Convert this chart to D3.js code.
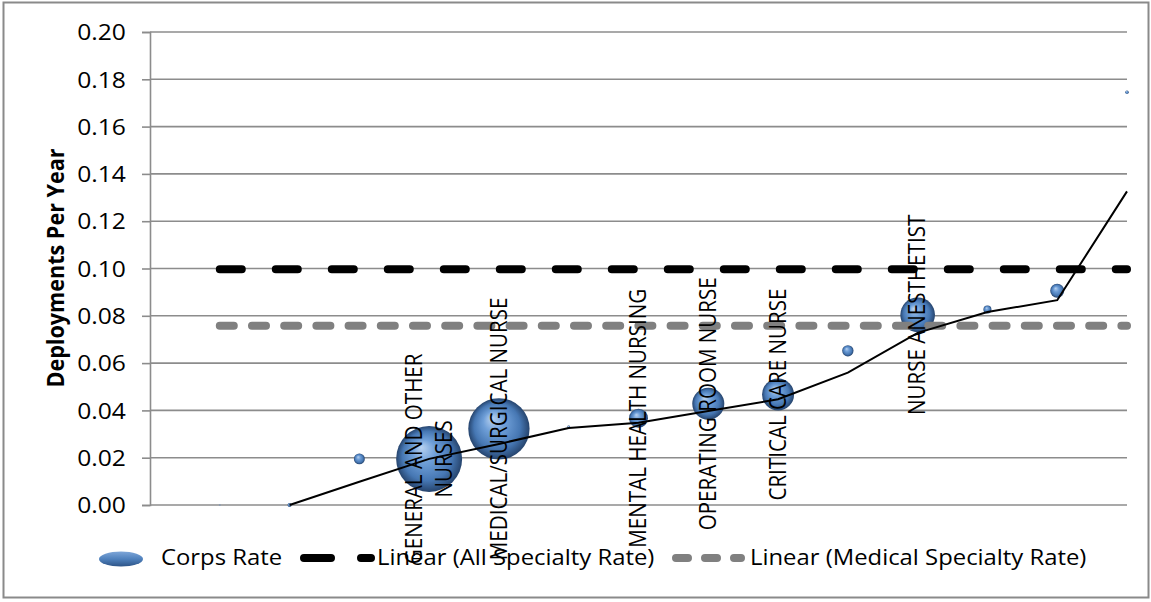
<!DOCTYPE html>
<html><head><meta charset="utf-8">
<script src="https://cdn.jsdelivr.net/npm/d3@7"></script>
<style>
body{margin:0;background:#fff}
text{font-family:"Open Sans",sans-serif;fill:#000}
</style>
</head><body>
<svg id="chart" width="1151" height="602"></svg>
<script>
// ---- data ----
const xIndex = [1,2,3,4,5,6,7,8,9,10,11,12,13,14];
const corpsRate = [0.0000,0.0000,0.0195,0.0195,0.0322,0.0330,0.0367,0.0428,0.0467,0.0652,0.0804,0.0827,0.0906,0.1745];
const bubbleSize = [1,4,30,1089,940,2,90,256,256,32,300,16,49,3];
const specialtyLabels = ["","","","GENERAL AND OTHER\nNURSES","MEDICAL/SURGICAL NURSE","","MENTAL HEALTH NURSING","OPERATING ROOM NURSE","CRITICAL CARE NURSE","","NURSE ANESTHETIST","","",""];
const movingAvgX = [2,3,4,5,6,7,8,9,10,11,12,13,14];
const movingAvg = [0.0000,0.0098,0.0195,0.0258,0.0326,0.0348,0.0397,0.0447,0.0560,0.0728,0.0816,0.0866,0.1326];
const trendNames = ["Linear (All Specialty Rate)","Linear (Medical Specialty Rate)"];
const trendValues = [0.0997,0.0758];
const trendRange = [1,14];
const yTicks = [0,0.02,0.04,0.06,0.08,0.10,0.12,0.14,0.16,0.18,0.20];
const yTitle = "Deployments Per Year";
const legendLabels = ["Corps Rate","Linear (All Specialty Rate)","Linear (Medical Specialty Rate)"];

// ---- layout ----
const svg = d3.select("#chart");
const SX = 1.12;
const x = d3.scaleLinear().domain([0,14]).range([150,1127]);
const y = d3.scaleLinear().domain([0,0.2]).range([505,32]);
const r = d3.scaleSqrt().domain([0,1089]).range([0,33]);

const defs = svg.append("defs");
const rg = defs.append("radialGradient").attr("id","bub")
  .attr("cx","50%").attr("cy","50%").attr("r","50%").attr("fx","38%").attr("fy","32%");
rg.append("stop").attr("offset","0%").attr("stop-color","#b9d2f0");
rg.append("stop").attr("offset","35%").attr("stop-color","#6f9fd8");
rg.append("stop").attr("offset","75%").attr("stop-color","#4677b3");
rg.append("stop").attr("offset","100%").attr("stop-color","#26446d");
const lg = defs.append("linearGradient").attr("id","legbub").attr("x1",0).attr("x2",0).attr("y1",0).attr("y2",1);
lg.append("stop").attr("offset","0%").attr("stop-color","#7ea6d8");
lg.append("stop").attr("offset","50%").attr("stop-color","#4f81bd");
lg.append("stop").attr("offset","100%").attr("stop-color","#2d5487");

svg.append("rect").attr("x",0).attr("y",0).attr("width",1151).attr("height",602).attr("fill","#fff");
svg.append("rect").attr("x",3.5).attr("y",2.5).attr("width",1145).attr("height",595)
  .attr("fill","none").attr("stroke","#8a8a8a").attr("stroke-width",2);

// gridlines
svg.append("g").selectAll("line").data(yTicks).join("line")
  .attr("x1",150).attr("x2",1127).attr("y1",d=>y(d)).attr("y2",d=>y(d))
  .attr("stroke","#8c8c8c").attr("stroke-width",1.6);

// y axis
const yAxis = svg.append("g").attr("transform","translate(150,0)")
  .call(d3.axisLeft(y).tickValues(yTicks).tickSize(8).tickFormat(d3.format(".2f")));
yAxis.select(".domain").attr("stroke","#8c8c8c").attr("stroke-width",1.6);
yAxis.selectAll(".tick line").attr("stroke","#8c8c8c").attr("stroke-width",1.6);
yAxis.selectAll(".tick text")
  .attr("x",-21.5).attr("dy","0.35em")
  .attr("transform",`scale(${SX},1)`)
  .style("font-size","22px").style("font-family","'Open Sans',sans-serif").attr("fill","#000");

// y title
svg.append("text").attr("transform",`translate(64,268) scale(1.05,1) rotate(-90)`)
  .attr("text-anchor","middle").style("font-size","21.6px").style("font-weight","bold").text(yTitle);

// bubbles
const pts = xIndex.map((d,i)=>({x:d,v:corpsRate[i],s:bubbleSize[i],label:specialtyLabels[i]}));
svg.append("g").selectAll("circle").data(pts).join("circle")
  .attr("cx",d=>x(d.x)).attr("cy",d=>y(d.v)).attr("r",d=>Math.max(1,r(d.s)))
  .attr("fill",d=>r(d.s)<1.2?"#8a9bb0":"url(#bub)");

// trendlines
const trendStyles = [{c:"#000",dash:"22 34"},{c:"#808080",dash:"14 18.2"}];
svg.append("g").selectAll("line").data(trendValues).join("line")
  .attr("x1",x(trendRange[0])).attr("x2",x(trendRange[1]))
  .attr("y1",d=>y(d)).attr("y2",d=>y(d))
  .attr("stroke",(d,i)=>trendStyles[i].c).attr("stroke-width",8)
  .attr("stroke-linecap","round").attr("stroke-dasharray",(d,i)=>trendStyles[i].dash);

// moving average line
const line = d3.line().x(d=>x(d[0])).y(d=>y(d[1]));
svg.append("path").datum(movingAvgX.map((d,i)=>[d,movingAvg[i]]))
  .attr("d",line).attr("fill","none").attr("stroke","#000").attr("stroke-width",2);

// data labels
const lab = svg.append("g").selectAll("g").data(pts.filter(d=>d.label)).join("g")
  .attr("transform",d=>`translate(${x(d.x)},${y(d.v)}) scale(${SX},1) rotate(-90)`);
lab.each(function(d){
  const lines = d.label.split("\n");
  const t = d3.select(this).append("text").attr("text-anchor","middle").style("font-size","20.6px");
  lines.forEach((l,i)=>{
    t.append("tspan").attr("x",0).attr("y",(i-(lines.length-1)/2)*26+7).text(l);
  });
});

// legend
const leg = svg.append("g");
const LF = "21.3px";
leg.append("ellipse").attr("cx",121).attr("cy",559).attr("rx",22).attr("ry",7.5).attr("fill","url(#legbub)");
leg.append("text").attr("transform",`translate(161,565) scale(${SX},1)`).style("font-size",LF).text(legendLabels[0]);
leg.append("line").attr("x1",304).attr("x2",371).attr("y1",558).attr("y2",558)
  .attr("stroke","#000").attr("stroke-width",8).attr("stroke-linecap","round").attr("stroke-dasharray","27 30");
leg.append("text").attr("transform",`translate(377,565) scale(${SX},1)`).style("font-size",LF).text(legendLabels[1]);
leg.append("line").attr("x1",676).attr("x2",741).attr("y1",558).attr("y2",558)
  .attr("stroke","#808080").attr("stroke-width",8).attr("stroke-linecap","round").attr("stroke-dasharray","12 17");
leg.append("text").attr("transform",`translate(750,565) scale(${SX},1)`).style("font-size",LF).text(legendLabels[2]);
</script>
</body></html>
